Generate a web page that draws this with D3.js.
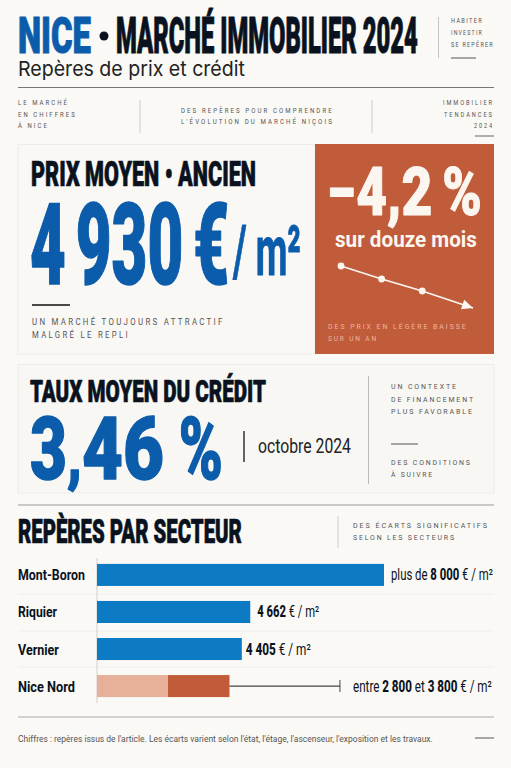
<!DOCTYPE html>
<html lang="fr"><head><meta charset="utf-8">
<script src="https://cdn.jsdelivr.net/npm/d3@7"></script>
<style>html,body{margin:0;padding:0;background:#faf9f6}svg{display:block}</style></head>
<body><svg id="c" width="511" height="768"></svg>
<script>
// ---- data ----
const sectors = ["Mont-Boron", "Riquier", "Vernier", "Nice Nord"];
const barValues = [8730, 4662, 4405, null];       // €/m², bar lengths
const niceNordLow = 2160, niceNordHigh = 4030, niceNordWhisker = 7390;
const trendMonths = [0, 4, 8, 13];
const trendPct = [0, -1.3, -2.5, -4.2];

const BLUE="#0b5cab", INK="#0a1220", ORANGE="#c15c3b", BAR="#0d7bc4", LIGHT="#e6b09b", GREY="#555";
const svg=d3.select("#c");
svg.append("rect").attr("width",511).attr("height",768).attr("fill","#faf9f6");

function T(x,y,parts,o={}){
  const g=svg.append("text").attr("font-family",o.font||"Roboto")
    .attr("font-size",o.size).attr("font-weight",o.weight||400).attr("fill",o.fill||INK)
    .style("letter-spacing",(o.ls||0)+"px").style("word-spacing",(o.ws||0)+"px").style("white-space","pre");
  (Array.isArray(parts)?parts:[[parts,o.weight||400]]).forEach(p=>{
    const t=g.append("tspan").attr("font-weight",p[1]).text(p[0]);
    if(p[2]) t.attr("font-size",p[2]);
    if(p[3]) t.attr("textLength",p[3]).attr("lengthAdjust","spacingAndGlyphs");
  });
  let k=1; const len=g.node().getComputedTextLength();
  if(o.w) k=o.w/len;
  const dx=o.end? -(o.w||len):0;
  g.attr("transform",`translate(${x+dx},${y}) scale(${k},1)`);
  if(o.stroke) g.attr("stroke",o.fill||INK).attr("stroke-width",o.stroke).attr("stroke-linejoin","round");
  return g;
}
function L(x1,y1,x2,y2,c="#aaa",w=1){svg.append("line").attr("x1",x1).attr("y1",y1).attr("x2",x2).attr("y2",y2).attr("stroke",c).attr("stroke-width",w);}
function R(x,y,w,h,f,s){svg.append("rect").attr("x",x).attr("y",y).attr("width",w).attr("height",h).attr("fill",f).attr("stroke",s||"none");}

// ---- header ----
T(18,53,"NICE",{size:50,weight:900,fill:BLUE,w:73,stroke:1});
svg.append("circle").attr("cx",104).attr("cy",36).attr("r",4.5).attr("fill",INK);
T(116,53,"MARCHÉ IMMOBILIER 2024",{size:50,weight:900,w:302,stroke:1});
T(18,76,"Repères de prix et crédit",{size:20.5,font:"Inter",fill:"#222",w:227});
L(438.5,17,438.5,58,"#c4c4c0");
const sm={size:6.5,fill:GREY,ls:1.5};
T(451,23,"HABITER",{...sm,w:32});T(451,35,"INVESTIR",{...sm,w:32});T(451,47,"SE REPÉRER",{...sm,w:43});
L(451,58,476,58,"#555");
L(18,87.5,494,87.5,"#777");
const s2={size:6.5,fill:GREY,ls:2.2};
T(18,105,"LE MARCHÉ",{...s2,w:51});T(18,117,"EN CHIFFRES",{...s2,w:59});T(18,128,"À NICE",{...s2,w:31});
L(140,100,140,133,"#ccc");
T(181,113,"DES REPÈRES POUR COMPRENDRE",{...s2,w:153});T(181,124,"L'ÉVOLUTION DU MARCHÉ NIÇOIS",{...s2,w:153});
L(372,100,372,133,"#ccc");
T(494,105,"IMMOBILIER",{...s2,w:51,end:1});T(494,117,"TENDANCES",{...s2,w:50,end:1});T(494,128,"2024",{...s2,w:20,end:1});
L(475,136,494,136,"#666");

// ---- price card ----
R(18,144.5,297,209.5,"#faf8f5","#eeece8");
T(31,186,"PRIX MOYEN • ANCIEN",{size:35,weight:900,w:225,stroke:.7});
T(30,284,"4 930 €",{size:114,weight:900,fill:BLUE,w:199,stroke:1.5,ws:-10});
T(233,275,"/ m²",{size:70,weight:700,fill:BLUE,w:68,stroke:.8});
L(32,305,70,305,"#111",1.5);
const s3={size:8.5,fill:GREY,ls:2.5};
T(32,325,"UN MARCHÉ TOUJOURS ATTRACTIF",{...s3,w:193});
T(32,338,"MALGRÉ LE REPLI",{...s3,w:98});

// ---- orange panel ----
R(315,144,179,210,ORANGE);
const W="#fbf6f0";
T(327,215,"−4,2 %",{size:66,weight:900,fill:W,w:155,stroke:1,ws:-4});
T(335,246.5,"sur douze mois",{size:22,weight:700,fill:W,w:142});
const tx=d3.scaleLinear().domain([0,13]).range([341,473]);
const ty=d3.scaleLinear().domain([0,-4.2]).range([266,308]);
const pts=trendMonths.map((m,i)=>[tx(m),ty(trendPct[i])]);
svg.append("path").attr("d",d3.line()(pts)).attr("fill","none").attr("stroke",W).attr("stroke-width",1.8);
svg.selectAll(".tp").data(pts.slice(0,3)).join("circle").attr("cx",d=>d[0]).attr("cy",d=>d[1]).attr("r",3.4).attr("fill",W);
const tip=pts[3], a=Math.atan2(tip[1]-pts[2][1],tip[0]-pts[2][0])*180/Math.PI;
svg.append("path").attr("d","M0,0L-11,-5L-11,5Z").attr("fill",W).attr("transform",`translate(${tip[0]},${tip[1]}) rotate(${a})`);
const s4={size:7,fill:"#eeb49d",ls:2};
T(328,329,"DES PRIX EN LÉGÈRE BAISSE",{...s4,w:140});T(328,341,"SUR UN AN",{...s4,w:50});

// ---- credit card ----
R(18,364.5,476,128.5,"#f8f7f3","#eeece8");
T(30,402,"TAUX MOYEN DU CRÉDIT",{size:31,weight:900,w:236,stroke:.7});
T(30,479,[["3",900,null,37],[",",900,68,15],["46",900,null,82],[" %",900,null,59]],{size:87,weight:900,fill:BLUE,stroke:1.4});
L(244,431,244,462,"#333",1.5);
T(258,452.5,"octobre 2024",{size:20,fill:"#222",w:93});
L(368.5,376,368.5,484,"#bbb");
const s5={size:7.5,fill:GREY,ls:2};
T(391,389,"UN CONTEXTE",{...s5,w:67});T(391,401.5,"DE FINANCEMENT",{...s5,w:84});T(391,414,"PLUS FAVORABLE",{...s5,w:83});
L(391,444,418,444,"#555");
T(391,465,"DES CONDITIONS",{...s5,w:81});T(391,477,"À SUIVRE",{...s5,w:43});

// ---- sector bars ----
L(18,505,494,505,"#999");
T(18,543,"REPÈRES PAR SECTEUR",{size:33,weight:900,w:224,stroke:.7});
L(338,516,338,548,"#ccc");
T(353,528,"DES ÉCARTS SIGNIFICATIFS",{...s5,w:136});T(353,540,"SELON LES SECTEURS",{...s5,w:103});

const x=d3.scaleLinear().domain([0,8730]).range([97,384]);
const y=d3.scaleBand().domain(sectors).range([556.5,704.5]).paddingInner(0.405).paddingOuter(0.2);
[594,631,667].forEach(v=>L(18,v,494,v,"#efeeea"));
L(97,558,97,703,"#d0cfcb");
const cy=s=>y(s)+y.bandwidth()/2;
svg.selectAll(".b").data(sectors.slice(0,3)).join("rect").attr("x",x(0))
  .attr("y",d=>y(d)).attr("height",y.bandwidth())
  .attr("width",(d,i)=>x(barValues[i])-x(0)).attr("fill",BAR);
const nn=sectors[3];
svg.append("rect").attr("x",x(0)).attr("y",y(nn)).attr("height",y.bandwidth()).attr("width",x(niceNordLow)-x(0)).attr("fill",LIGHT);
svg.append("rect").attr("x",x(niceNordLow)).attr("y",y(nn)).attr("height",y.bandwidth()).attr("width",x(niceNordHigh)-x(niceNordLow)).attr("fill",ORANGE);
L(x(niceNordHigh),cy(nn),x(niceNordWhisker),cy(nn),"#444",1.3);
L(x(niceNordWhisker),cy(nn)-6,x(niceNordWhisker),cy(nn)+6,"#444",1);

const catW=[67,39,41,57];
sectors.forEach((s,i)=>T(18,cy(s)+5.5,s,{size:15,weight:700,w:catW[i]}));
T(391,cy(sectors[0])+5.5,[["plus de ",400],["8 000",800],[" € / m²",400]],{size:16,w:102});
T(x(barValues[1])+7,cy(sectors[1])+5.5,[["4 662",800],[" € / m²",400]],{size:16,w:62});
T(x(barValues[2])+4,cy(sectors[2])+5.5,[["4 405",800],[" € / m²",400]],{size:16,w:65});
T(353,cy(nn)+5.5,[["entre ",400],["2 800",800],[" et ",400],["3 800",800],[" € / m²",400]],{size:16,w:139});

// ---- footer ----
L(18,717,494,717,"#aaa");
T(18,742,"Chiffres : repères issus de l'article. Les écarts varient selon l'état, l'étage, l'ascenseur, l'exposition et les travaux.",{size:9.5,fill:GREY,w:415});
L(475,738,494,738,"#555");
</script></body></html>
